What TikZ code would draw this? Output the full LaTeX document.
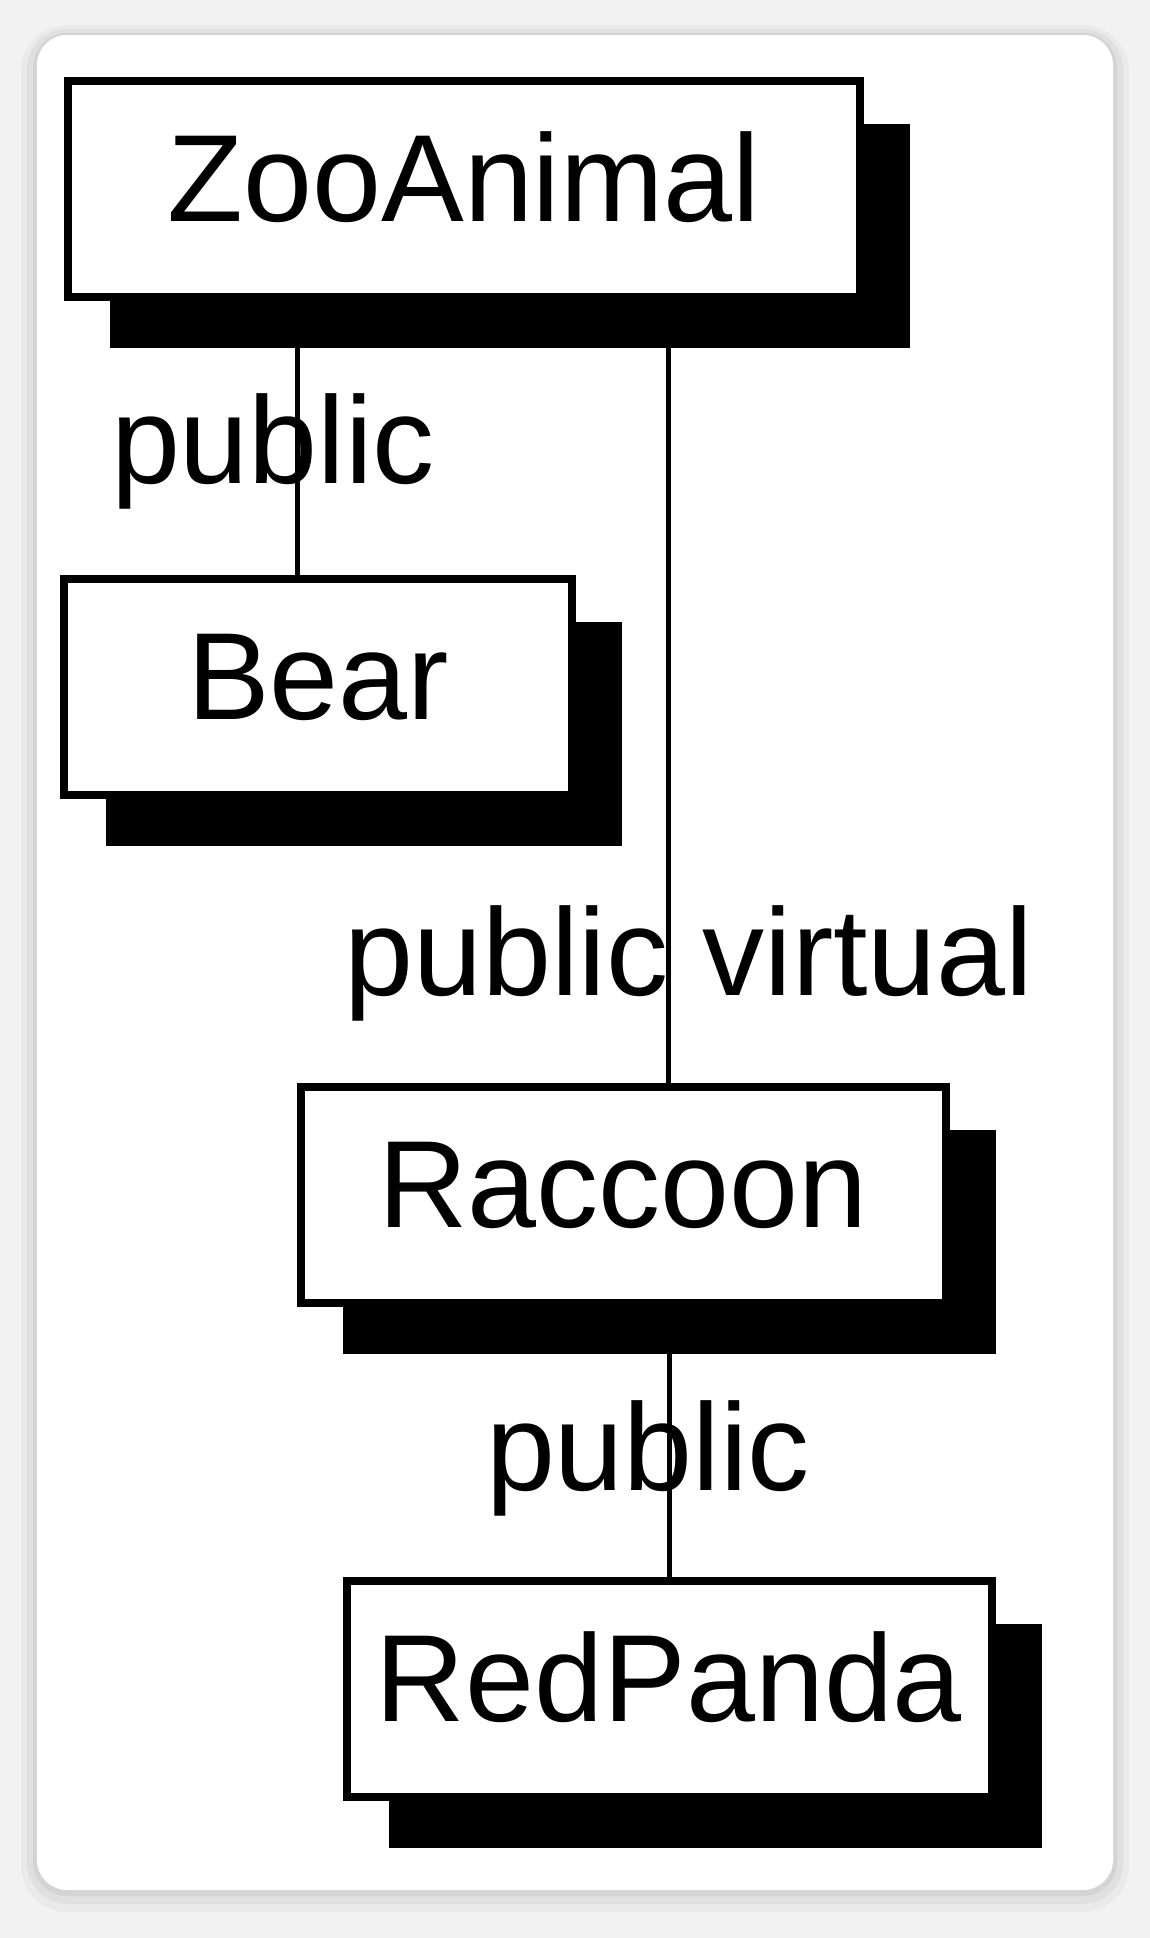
\documentclass[tikz,border=0pt]{standalone}
\usepackage{fontspec}
\setmainfont{Liberation Sans}
\usetikzlibrary{shadows}
\definecolor{mygray}{gray}{0.95}

\begin{document}
\begin{tikzpicture}[x=1pt, y=-1pt,
    classbox/.style={draw, line width=8pt, fill=white, minimum height=216pt, inner sep=0pt,
        text height=88pt, text depth=24pt, font=\fontsize{124pt}{140pt}\selectfont,
        drop shadow={shadow xshift=46pt, shadow yshift=-47pt, fill=black, draw=black, opacity=1}},
    access/.style={font=\fontsize{124pt}{140pt}\selectfont, anchor=base, inner sep=0pt}]
    \useasboundingbox (0,0) rectangle (1150,1938);
    % card
    \fill[mygray] (0,0) rectangle (1150,1938);
    \fill[black, opacity=0.03, rounded corners=46pt] (21,25) rectangle (1129,1912);
    \fill[black, opacity=0.04, rounded corners=40pt] (27,29) rectangle (1123,1904);
    \fill[black, opacity=0.05, rounded corners=34pt] (33,33) rectangle (1117,1896);
    \fill[white, rounded corners=30pt] (37,35) rectangle (1113,1890);
    % classes
    \node[classbox, minimum width=792pt] (zoo) at (464,189) {ZooAnimal};
    \node[classbox, minimum width=508pt] (bear) at (318,687) {Bear};
    \node[classbox, minimum width=645pt] (raccoon) at (623,1195) {Raccoon};
    \node[classbox, minimum width=645pt] (redpanda) at (669,1689) {RedPanda};
    % inheritance
    \coordinate (bearin) at ([xshift=-21pt]bear.north);
    \coordinate (raccoonin) at ([xshift=45pt]raccoon.north);
    \draw[line width=5pt] (bearin) -- (bearin |- zoo.south);
    \draw[line width=5pt] (raccoonin) -- (raccoonin |- zoo.south);
    \draw[line width=5pt] (redpanda.north) -- (redpanda.north |- raccoon.south);
    \node[access] (lblbear) at (273,483) {public};
    \node[access] (lblraccoon) at (689,995) {public virtual};
    \node[access] (lblpanda) at (648,1490) {public};
\end{tikzpicture}
\end{document}
